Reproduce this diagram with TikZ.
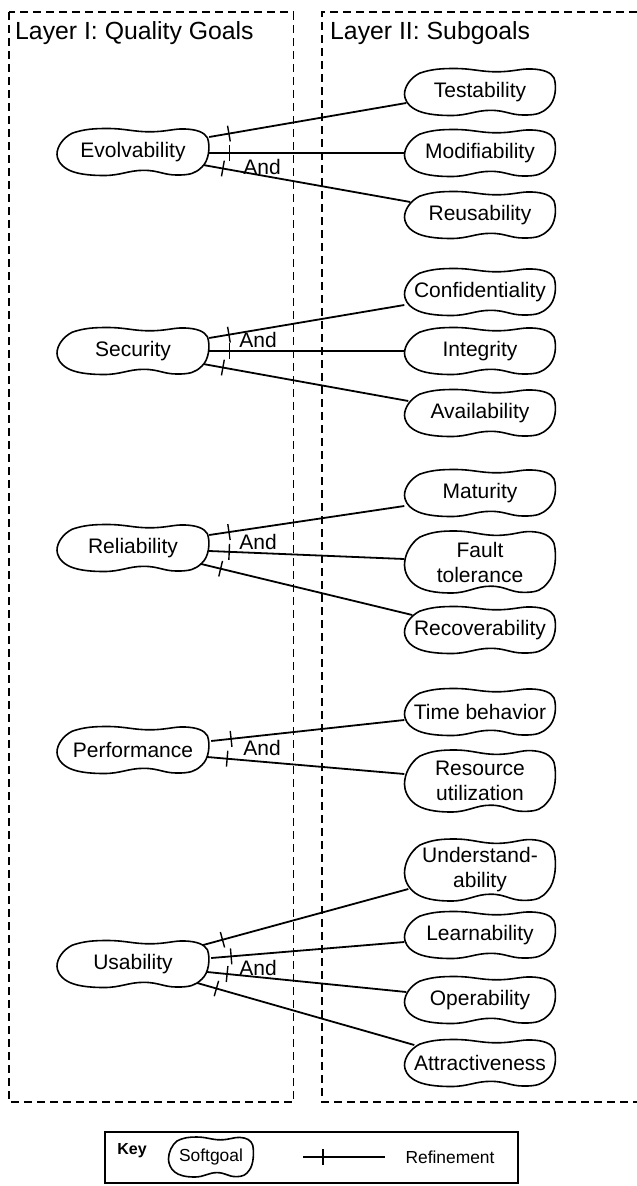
\documentclass[tikz,border=0pt]{standalone}
\usepackage{fontspec}
\setmainfont{Liberation Sans}
\usetikzlibrary{calc,decorations.markings}
\pgfdeclarelayer{bg}
\pgfdeclarelayer{mid}
\pgfsetlayers{bg,mid,main}
\newcommand\sgfont{\fontsize{21}{25}\selectfont}
\newcommand\ttlfont{\fontsize{24.8}{28}\selectfont}
\newcommand\keyfont{\fontsize{17.4}{20}\selectfont}
\newcommand\cloud[3]{%
  \draw[cloudline,shift={(#1.center)},x=#2pt,y=#3pt]
    (-0.40,0.40) .. controls (-0.32,0.49) and (-0.25,0.50) .. (-0.17,0.50)
    .. controls (-0.05,0.50) and (0.00,0.43) .. (0.11,0.43)
    .. controls (0.22,0.43) and (0.27,0.50) .. (0.34,0.49)
    .. controls (0.42,0.48) and (0.47,0.42) .. (0.49,0.30)
    .. controls (0.51,0.12) and (0.50,-0.20) .. (0.45,-0.33)
    .. controls (0.41,-0.45) and (0.38,-0.49) .. (0.29,-0.49)
    .. controls (0.20,-0.49) and (0.17,-0.39) .. (0.07,-0.39)
    .. controls (-0.03,-0.39) and (-0.08,-0.50) .. (-0.19,-0.50)
    .. controls (-0.30,-0.50) and (-0.38,-0.46) .. (-0.43,-0.37)
    .. controls (-0.48,-0.28) and (-0.50,-0.15) .. (-0.50,-0.05)
    .. controls (-0.50,0.12) and (-0.46,0.30) .. (-0.40,0.40) -- cycle;}
\tikzset{
  sgl/.style={minimum width=152pt,minimum height=47pt,inner sep=0pt,align=center,font=\sgfont},
  sgr/.style={minimum width=151pt,minimum height=47pt,inner sep=0pt,align=center,font=\sgfont},
  sgrr/.style={sgr,minimum height=62pt},
  cloudline/.style={line width=1.6pt,fill=white},
  conn/.style={line width=1.8pt,postaction={decorate},
    decoration={markings,mark=at position 20pt with {\draw[line width=1.4pt] (0,-8pt) -- (0,8pt);}}},
  layerbox/.style={line width=1.3pt,dash pattern=on 8pt off 5pt},
  andlbl/.style={font=\sgfont,inner sep=0pt},
}
\begin{document}
\begin{tikzpicture}[x=1pt,y=-1pt]
\useasboundingbox (0,0) rectangle (637,1186);
% titles
\node[anchor=west,font=\ttlfont,inner sep=0pt] (t1) at (15,33) {Layer I: Quality Goals};
\node[anchor=west,font=\ttlfont,inner sep=0pt] (t2) at (330,33) {Layer II: Subgoals};
% left nodes
\node[sgl] (evo) at (133,152) {Evolvability};
\node[sgl] (sec) at (133,351) {Security};
\node[sgl] (rel) at (133,548) {Reliability};
\node[sgl] (perf) at (133,750) {Performance};
\node[sgl] (usa) at (133,964) {Usability};
% right nodes
\node[sgr] (test) at (480,92) {Testability};
\node[sgr] (mod) at (480,153) {Modifiability};
\node[sgr] (reu) at (480,215) {Reusability};
\node[sgr] (conf) at (480,292) {Confidentiality};
\node[sgr] (integ) at (480,351) {Integrity};
\node[sgr] (avail) at (480,413) {Availability};
\node[sgr] (mat) at (480,493) {Maturity};
\node[sgrr] (fault) at (480,562) {Fault\\tolerance};
\node[sgr] (recov) at (480,630) {Recoverability};
\node[sgr] (time) at (480,712) {Time behavior};
\node[sgrr] (res) at (480,781) {Resource\\utilization};
\node[sgrr] (und) at (480,870) {Understand-\\ability};
\node[sgr] (learn) at (480,935) {Learnability};
\node[sgr] (oper) at (480,1000) {Operability};
\node[sgr] (attr) at (480,1063) {Attractiveness};
% And labels
\node[andlbl] (and1) at (262,167) {And};
\node[andlbl] (and2) at (258,340) {And};
\node[andlbl] (and3) at (258,542) {And};
\node[andlbl] (and4) at (262,748) {And};
\node[andlbl] (and5) at (258,968) {And};
% key
\node[inner sep=0pt,font=\bfseries\fontsize{16}{18}\selectfont] (keylbl) at (132,1151) {Key};
\node[minimum width=85pt,minimum height=40pt,inner sep=0pt,font=\keyfont] (ksg) at (211,1157) {Softgoal};
\coordinate (r1) at (303,1157);
\coordinate (r2) at (385,1157);
\node[inner sep=0pt,font=\keyfont] (reflbl) at (450,1157) {Refinement};

\begin{pgfonlayer}{bg}
\draw[layerbox] (9,12) rectangle (293.5,1102);
\draw[layerbox] (637,12) -- (322,12) -- (322,1102) -- (637,1102);
\draw[line width=2.6pt] (105,1132) rectangle (518,1183);
% connectors
\draw[conn] ($(evo.east)+(0,-15)$) -- ($(test.west)+(2,11)$);
\draw[conn] ($(evo.east)+(0,1)$) -- ($(mod.west)+(0,0)$);
\draw[conn] ($(evo.east)+(-6,13)$) -- ($(reu.west)+(6,-13)$);
\draw[conn] ($(sec.east)+(0,-13)$) -- ($(conf.west)+(0,13)$);
\draw[conn] (sec.east) -- (integ.west);
\draw[conn] ($(sec.east)+(-6,13)$) -- ($(avail.west)+(4,-12)$);
\draw[conn] ($(rel.east)+(0,-13)$) -- ($(mat.west)+(0,13)$);
\draw[conn] ($(rel.east)+(0,3)$) -- ($(fault.west)+(0,-3)$);
\draw[conn] ($(rel.east)+(-8,16)$) -- ($(recov.west)+(8,-15)$);
\draw[conn] ($(perf.east)+(2,-9)$) -- ($(time.west)+(0,8)$);
\draw[conn] ($(perf.east)+(-2,7)$) -- ($(res.west)+(0,-7)$);
\draw[conn] ($(usa.east)+(-6,-19)$) -- ($(und.west)+(4,19)$);
\draw[conn] ($(usa.east)+(2,-6)$) -- ($(learn.west)+(0,7)$);
\draw[conn] ($(usa.east)+(-2,8)$) -- ($(oper.west)+(2,-8)$);
\draw[conn] ($(usa.east)+(-12,19)$) -- ($(attr.west)+(10,-18)$);
\draw[conn,line width=1.5pt] (r1) -- (r2);
\end{pgfonlayer}

\begin{pgfonlayer}{mid}
\cloud{evo}{152}{47}
\cloud{sec}{152}{47}
\cloud{rel}{152}{47}
\cloud{perf}{152}{47}
\cloud{usa}{152}{47}
\cloud{test}{151}{47}
\cloud{mod}{151}{47}
\cloud{reu}{151}{47}
\cloud{conf}{151}{47}
\cloud{integ}{151}{47}
\cloud{avail}{151}{47}
\cloud{mat}{151}{47}
\cloud{fault}{151}{62}
\cloud{recov}{151}{47}
\cloud{time}{151}{47}
\cloud{res}{151}{62}
\cloud{und}{151}{62}
\cloud{learn}{151}{47}
\cloud{oper}{151}{47}
\cloud{attr}{151}{47}
\cloud{ksg}{85}{40}
\end{pgfonlayer}
\end{tikzpicture}
\end{document}
